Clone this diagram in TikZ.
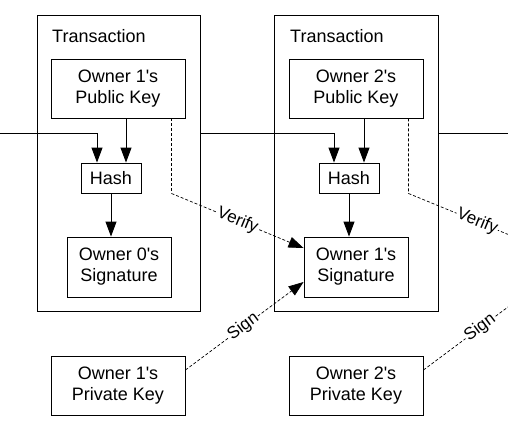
\documentclass[tikz,border=0pt]{standalone}
\usepackage{fontspec}
\setmainfont{Liberation Sans}[Ligatures=TeXOff]
\usetikzlibrary{arrows.meta,calc}
\begin{document}
\begin{tikzpicture}[x=1pt,y=-1pt,
  box/.style={draw=black,line width=0.9pt,inner sep=0pt,align=center,font=\fontsize{18}{21}\selectfont},
  arr/.style={line width=0.9pt,-{Triangle[length=15pt,width=11pt]}},
  dsh/.style={line width=0.7pt,dash pattern=on 3pt off 2pt},
  lbl/.style={font=\fontsize{17}{20}\selectfont,fill=white,inner sep=1pt,sloped}]
\useasboundingbox (0,0) rectangle (508,432);
% transaction frames
\node[box,minimum width=163pt,minimum height=296pt] (TX1) at (118.5,163) {};
\node[box,minimum width=164pt,minimum height=296pt] (TX2) at (356,163) {};
\node[anchor=base west,inner sep=0pt,font=\fontsize{18}{21}\selectfont] (T1) at (52,42) {Transaction};
\node[anchor=base west,inner sep=0pt,font=\fontsize{18}{21}\selectfont] (T2) at (290,42) {Transaction};
% inner boxes
\node[box,minimum width=134pt,minimum height=59pt] (PK1) at (118,88.5) {Owner 1's\\Public Key};
\node[box,minimum width=134pt,minimum height=59pt] (PK2) at (356,88.5) {Owner 2's\\Public Key};
\node[box,minimum width=60pt,minimum height=30pt] (H1) at (111,178) {Hash};
\node[box,minimum width=60pt,minimum height=30pt] (H2) at (349,178) {Hash};
\node[box,minimum width=104pt,minimum height=60pt] (S1) at (119,267) {Owner 0's\\Signature};
\node[box,minimum width=104pt,minimum height=60pt] (S2) at (356,267) {Owner 1's\\Signature};
\node[box,minimum width=134pt,minimum height=59pt] (PR1) at (118,385.5) {Owner 1's\\Private Key};
\node[box,minimum width=134pt,minimum height=59pt] (PR2) at (356,385.5) {Owner 2's\\Private Key};
% free ends
\coordinate (L0) at (0,133);
\coordinate (R0) at (508,133);
\coordinate (V1) at ([xshift=-14pt,yshift=-75pt]PK1.south east);
\coordinate (V2) at ([xshift=-15pt,yshift=-75pt]PK2.south east);
\coordinate (VE) at (508,234.4);
\coordinate (SE) at (508,307);
% chain line
\draw[arr] (L0) -| ([xshift=-14pt]H1.north);
\draw[arr] ([yshift=30pt]TX1.east) -| ([xshift=-15pt]H2.north);
\draw[line width=0.9pt] ([yshift=30pt]TX2.east) -- (R0);
% public key -> hash
\draw[arr] ([xshift=15pt]H1.north |- PK1.south) -- ([xshift=15pt]H1.north);
\draw[arr] ([xshift=15pt]H2.north |- PK2.south) -- ([xshift=15pt]H2.north);
% hash -> signature
\draw[arr] (H1.south) -- (H1.south |- S1.north);
\draw[arr] (H2.south) -- (H2.south |- S2.north);
% verify
\draw[dsh] ([xshift=-14pt]PK1.south east) -- (V1);
\draw[dsh,-{Triangle[length=15pt,width=11pt]}] (V1) -- node[lbl,pos=0.5]{Verify} ([yshift=19pt]S2.west);
\draw[dsh] ([xshift=-15pt]PK2.south east) -- (V2) -- node[lbl,pos=0.69]{Verify} (VE);
% sign
\draw[dsh,-{Triangle[length=15pt,width=11pt]}] ([yshift=15.5pt]PR1.east) -- node[lbl,pos=0.49]{Sign} ([yshift=-15pt]S2.west);
\draw[dsh] ([yshift=15.5pt]PR2.east) -- node[lbl,pos=0.67]{Sign} (SE);
\end{tikzpicture}
\end{document}
